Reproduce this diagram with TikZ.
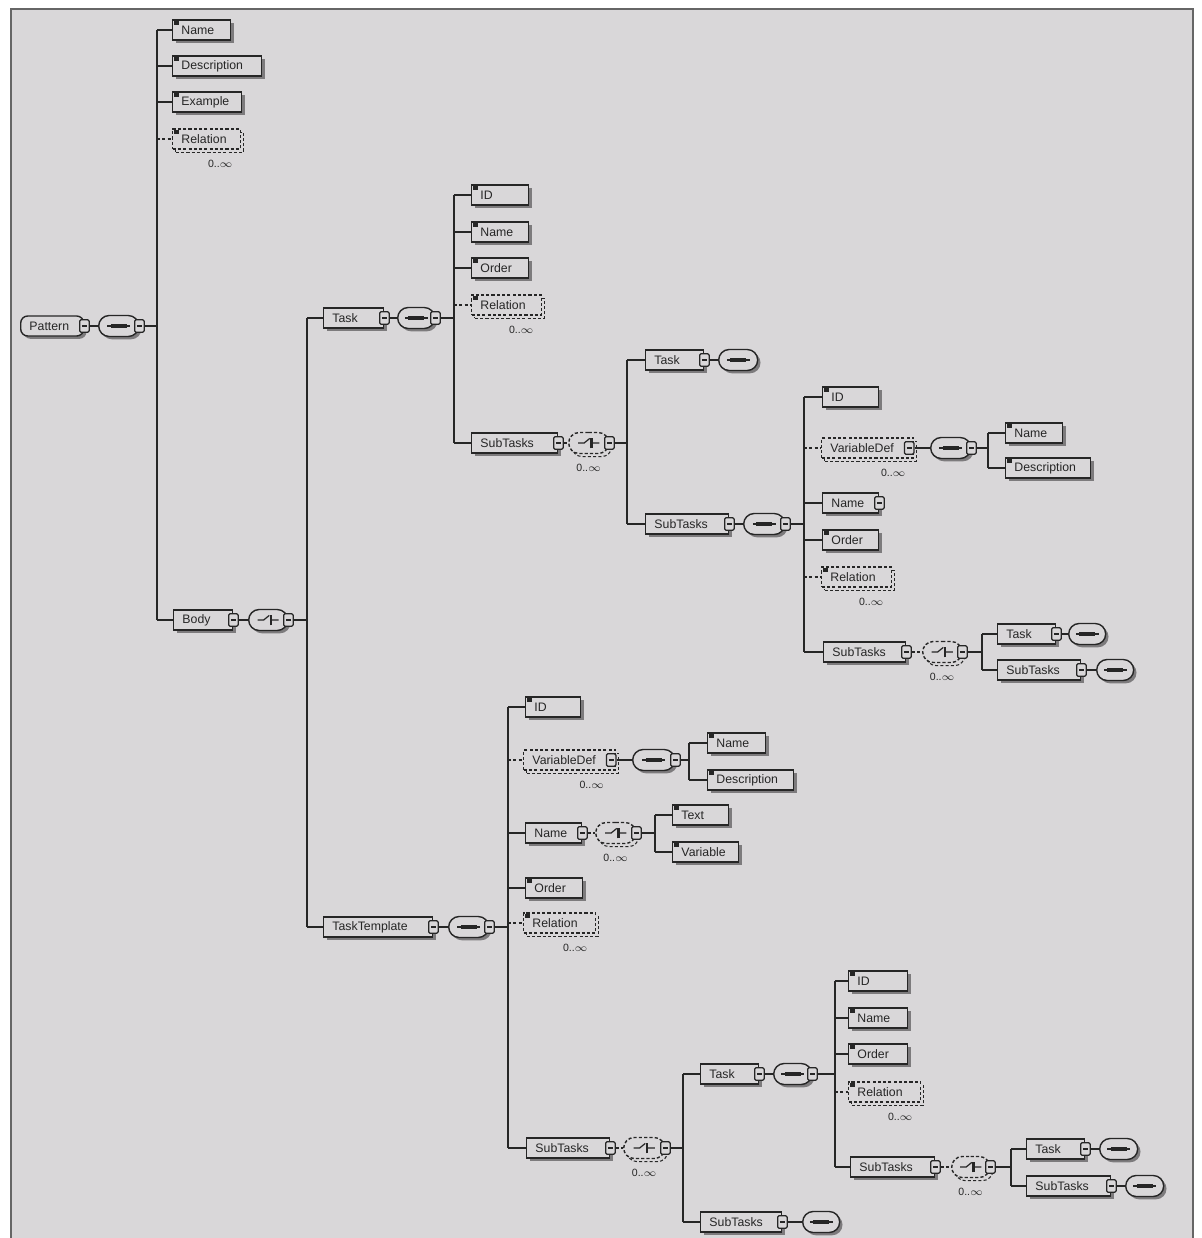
\documentclass[tikz,border=0pt]{standalone}
\usepackage{fontspec}
\setmainfont{Liberation Sans}
\usetikzlibrary{shapes.misc,shadows}

\definecolor{paper}{RGB}{217,215,217}
\definecolor{ink}{RGB}{38,38,38}
\definecolor{shadowgray}{RGB}{125,123,125}

\tikzset{
	wire/.style={draw=ink, line width=0.8pt},
	dotdash/.style={dash pattern=on 1.8pt off 1.2pt},
	hardshadow/.style={general shadow={fill=shadowgray, shadow xshift=1.6pt, shadow yshift=-1.6pt}},
	dashshadow/.style={general shadow={draw=ink, fill=paper, dotdash, line width=0.6pt, shadow xshift=1.8pt, shadow yshift=-1.8pt}},
	box/.style={rectangle, draw=ink, fill=paper, line width=0.8pt, anchor=west, text=ink,
		minimum height=0.4cm, inner xsep=5pt, inner ysep=0pt,
		text width={(#1)*0.02cm-10pt}, align=left, font=\fontsize{7}{8}\selectfont},
	elem/.style={box=#1, hardshadow},
	optelem/.style={box=#1, dotdash, dashshadow},
	rootelem/.style={box=#1, rounded corners=4pt, hardshadow},
	leaf/.style={path picture={\fill[ink] ([shift={(0.8pt,-0.8pt)}]path picture bounding box.north west) rectangle ++(3pt,-2.2pt);}},
	btn/.style={rectangle, draw=ink, fill=paper, line width=0.7pt, solid, minimum width=0.19cm, minimum height=0.25cm,
		inner sep=0pt, rounded corners=0.8pt,
		path picture={\draw[ink, line width=0.6pt] ([xshift=-1.4pt]path picture bounding box.center) -- ([xshift=1.4pt]path picture bounding box.center);}},
	comp/.style={rounded rectangle, draw=ink, fill=paper, line width=0.8pt, anchor=west,
		minimum width={(#1)*0.02cm}, minimum height=0.42cm, inner sep=0pt},
	comp/.default=38,
	seqsym/.style={path picture={
		\draw[ink, solid, line width=0.6pt, shift={(path picture bounding box.center)}] (-6.5pt,0pt) -- (6.5pt,0pt);
		\draw[ink, solid, line width=2.2pt, shift={(path picture bounding box.center)}] (-4.5pt,0pt) -- (4.5pt,0pt);}},
	chsym/.style={path picture={
		\draw[ink, solid, line width=0.7pt, shift={(path picture bounding box.center)}] (-6pt,0pt) -- (-2.6pt,0pt) -- (0.6pt,2.6pt) (1.6pt,0pt) -- (6pt,0pt);
		\draw[ink, solid, line width=1.4pt, shift={(path picture bounding box.center)}] (1.6pt,-3pt) -- (1.6pt,3pt);}},
	seq/.style={comp=#1, hardshadow, seqsym}, seq/.default=38,
	choice/.style={comp=#1, hardshadow, chsym}, choice/.default=38,
	optchoice/.style={comp=#1, dotdash, dashshadow, chsym}, optchoice/.default=38,
	occ/.style={text=ink, inner sep=0.5pt, font=\fontsize{6}{7}\selectfont},
}

\begin{document}
\begin{tikzpicture}[x=0.02cm, y=-0.02cm]
	\useasboundingbox (0,0) rectangle (1201,1238);
	\clip (0,0) rectangle (1201,1238); % Clips the page...
	\fill[white] (0,0) rectangle (1201,1238);
	\fill[paper] (11,9) rectangle (1193,1260);
	\draw[draw=black!60, line width=1.6pt] (11,9) rectangle (1193,1260);

	% root element
	\node[rootelem=63] (pat) at (20,326) {Pattern};
	\node[btn] (pat-b) at (pat.east) {};
	\node[seq=40] (patSeq) at (98,326) {};
	\node[btn] (patSeq-b) at (patSeq.east) {};
	\coordinate (tP) at (157,326);

	\node[elem=58, leaf] (pName) at (172,30) {Name};
	\node[elem=89, leaf] (pDesc) at (172,66) {Description};
	\node[elem=69, leaf] (pEx) at (172,102) {Example};
	\node[optelem=68, leaf] (pRel) at (172,139) {Relation};
	\node[occ] (pRel-o) at ([xshift=-12pt,yshift=-8pt]pRel.south east) {0..\(\infty\)};
	\node[elem=59] (body) at (173,620) {Body};
	\node[btn] (body-b) at (body.east) {};
	\node[choice=39] (bodyCh) at (248,620) {};
	\node[btn] (bodyCh-b) at (bodyCh.east) {};
	\coordinate (tB) at (307,620);

	% Task
	\node[elem=60] (task) at (323,318) {Task};
	\node[btn] (task-b) at (task.east) {};
	\node[seq=37] (taskSeq) at (397,318) {};
	\node[btn] (taskSeq-b) at (taskSeq.east) {};
	\coordinate (tT) at (454,318);

	\node[elem=57, leaf] (tId) at (471,195) {ID};
	\node[elem=57, leaf] (tName) at (471,232) {Name};
	\node[elem=57, leaf] (tOrd) at (471,268) {Order};
	\node[optelem=70, leaf] (tRel) at (471,305) {Relation};
	\node[occ] (tRel-o) at ([xshift=-12pt,yshift=-8pt]tRel.south east) {0..\(\infty\)};
	\node[elem=86] (tSub) at (471,443) {SubTasks};
	\node[btn] (tSub-b) at (tSub.east) {};
	\node[optchoice=40] (tSubCh) at (568,443) {};
	\node[btn] (tSubCh-b) at (tSubCh.east) {};
	\node[occ] (tSubCh-o) at ([yshift=-8pt]tSubCh.south) {0..\(\infty\)};
	\coordinate (tS) at (627,443);

	\node[elem=58] (sTask) at (645,360) {Task};
	\node[btn] (sTask-b) at (sTask.east) {};
	\node[seq=39] (sTaskSeq) at (718,360) {};
	\node[elem=83] (sSub) at (645,524) {SubTasks};
	\node[btn] (sSub-b) at (sSub.east) {};
	\node[seq=41] (sSubSeq) at (743,524) {};
	\node[btn] (sSubSeq-b) at (sSubSeq.east) {};
	\coordinate (tS2) at (804,524);

	\node[elem=56, leaf] (sId) at (822,397) {ID};
	\node[optelem=92] (sVar) at (821,448) {VariableDef};
	\node[btn] (sVar-b) at ([xshift=-3pt]sVar.east) {};
	\node[occ] (sVar-o) at ([xshift=-12pt,yshift=-8pt]sVar.south east) {0..\(\infty\)};
	\node[seq=40] (sVarSeq) at (930,448) {};
	\node[btn] (sVarSeq-b) at (sVarSeq.east) {};
	\coordinate (tV) at (988,448);
	\node[elem=57, leaf] (vName) at (1005,433) {Name};
	\node[elem=85, leaf] (vDesc) at (1005,468) {Description};
	\node[elem=56] (sName) at (822,503) {Name};
	\node[btn] (sName-b) at (sName.east) {};
	\node[elem=56, leaf] (sOrd) at (822,540) {Order};
	\node[optelem=70, leaf] (sRel) at (821,577) {Relation};
	\node[occ] (sRel-o) at ([xshift=-12pt,yshift=-8pt]sRel.south east) {0..\(\infty\)};
	\node[elem=82] (sSub2) at (823,652) {SubTasks};
	\node[btn] (sSub2-b) at (sSub2.east) {};
	\node[optchoice=39] (sSub2Ch) at (922,652) {};
	\node[btn] (sSub2Ch-b) at (sSub2Ch.east) {};
	\node[occ] (sSub2Ch-o) at ([yshift=-8pt]sSub2Ch.south) {0..\(\infty\)};
	\coordinate (tS3) at (982,652);

	\node[elem=58] (ssTask) at (997,634) {Task};
	\node[btn] (ssTask-b) at (ssTask.east) {};
	\node[seq=37] (ssTaskSeq) at (1068,634) {};
	\node[elem=83] (ssSub) at (997,670) {SubTasks};
	\node[btn] (ssSub-b) at (ssSub.east) {};
	\node[seq=37] (ssSubSeq) at (1096,670) {};

	% TaskTemplate
	\node[elem=109] (tt) at (323,927) {TaskTemplate};
	\node[btn] (tt-b) at (tt.east) {};
	\node[seq=40] (ttSeq) at (448,927) {};
	\node[btn] (ttSeq-b) at (ttSeq.east) {};
	\coordinate (tTT) at (508,927);

	\node[elem=55, leaf] (ttId) at (525,707) {ID};
	\node[optelem=92] (ttVar) at (523,760) {VariableDef};
	\node[btn] (ttVar-b) at ([xshift=-3pt]ttVar.east) {};
	\node[occ] (ttVar-o) at ([xshift=-14pt,yshift=-8pt]ttVar.south east) {0..\(\infty\)};
	\node[seq=42] (ttVarSeq) at (632,760) {};
	\node[btn] (ttVarSeq-b) at (ttVarSeq.east) {};
	\coordinate (tV2) at (689,760);
	\node[elem=58, leaf] (v2Name) at (707,743) {Name};
	\node[elem=86, leaf] (v2Desc) at (707,780) {Description};
	\node[elem=56] (ttName) at (525,833) {Name};
	\node[btn] (ttName-b) at (ttName.east) {};
	\node[optchoice=40] (ttNameCh) at (595,833) {};
	\node[btn] (ttNameCh-b) at (ttNameCh.east) {};
	\node[occ] (ttNameCh-o) at ([yshift=-8pt]ttNameCh.south) {0..\(\infty\)};
	\coordinate (tN) at (655,833);
	\node[elem=56, leaf] (nText) at (672,815) {Text};
	\node[elem=66, leaf] (nVar) at (672,852) {Variable};
	\node[elem=57, leaf] (ttOrd) at (525,888) {Order};
	\node[optelem=72, leaf] (ttRel) at (523,923) {Relation};
	\node[occ] (ttRel-o) at ([xshift=-12pt,yshift=-8pt]ttRel.south east) {0..\(\infty\)};
	\node[elem=83] (ttSub) at (526,1148) {SubTasks};
	\node[btn] (ttSub-b) at (ttSub.east) {};
	\node[optchoice=41] (ttSubCh) at (623,1148) {};
	\node[btn] (ttSubCh-b) at (ttSubCh.east) {};
	\node[occ] (ttSubCh-o) at ([yshift=-8pt]ttSubCh.south) {0..\(\infty\)};
	\coordinate (tS4) at (683,1148);

	\node[elem=58] (uTask) at (700,1074) {Task};
	\node[btn] (uTask-b) at (uTask.east) {};
	\node[seq=38] (uTaskSeq) at (773,1074) {};
	\node[btn] (uTaskSeq-b) at (uTaskSeq.east) {};
	\coordinate (tU) at (835,1074);
	\node[elem=59, leaf] (uId) at (848,981) {ID};
	\node[elem=59, leaf] (uName) at (848,1018) {Name};
	\node[elem=59, leaf] (uOrd) at (848,1054) {Order};
	\node[optelem=72, leaf] (uRel) at (848,1092) {Relation};
	\node[occ] (uRel-o) at ([xshift=-12pt,yshift=-8pt]uRel.south east) {0..\(\infty\)};
	\node[elem=84] (uSub) at (850,1167) {SubTasks};
	\node[btn] (uSub-b) at (uSub.east) {};
	\node[optchoice=38] (uSubCh) at (951,1167) {};
	\node[btn] (uSubCh-b) at (uSubCh.east) {};
	\node[occ] (uSubCh-o) at ([yshift=-8pt]uSubCh.south) {0..\(\infty\)};
	\coordinate (tU2) at (1011,1167);
	\node[elem=58] (uuTask) at (1026,1149) {Task};
	\node[btn] (uuTask-b) at (uuTask.east) {};
	\node[seq=38] (uuTaskSeq) at (1099,1149) {};
	\node[elem=84] (uuSub) at (1026,1186) {SubTasks};
	\node[btn] (uuSub-b) at (uuSub.east) {};
	\node[seq=38] (uuSubSeq) at (1125,1186) {};
	\node[elem=81] (uSub8) at (700,1222) {SubTasks};
	\node[btn] (uSub8-b) at (uSub8.east) {};
	\node[seq=37] (uSub8Seq) at (802,1222) {};

	% connectors: element -> compositor -> trunk
	\foreach \a/\b in {pat-b/patSeq, body-b/bodyCh, task-b/taskSeq, sTask-b/sTaskSeq, sSub-b/sSubSeq,
		sVar-b/sVarSeq, ssTask-b/ssTaskSeq, ssSub-b/ssSubSeq, tt-b/ttSeq, ttVar-b/ttVarSeq,
		uTask-b/uTaskSeq, uuTask-b/uuTaskSeq, uuSub-b/uuSubSeq, uSub8-b/uSub8Seq}
		\draw[wire] (\a) -- (\b);
	\foreach \a/\b in {tSub-b/tSubCh, sSub2-b/sSub2Ch, ttName-b/ttNameCh, ttSub-b/ttSubCh, uSub-b/uSubCh}
		\draw[wire, dotdash] (\a) -- (\b);
	\foreach \a/\b in {patSeq-b/tP, bodyCh-b/tB, taskSeq-b/tT, tSubCh-b/tS, sSubSeq-b/tS2, sVarSeq-b/tV,
		sSub2Ch-b/tS3, ttSeq-b/tTT, ttVarSeq-b/tV2, ttNameCh-b/tN, ttSubCh-b/tS4, uTaskSeq-b/tU, uSubCh-b/tU2}
		\draw[wire] (\a) -- (\b);

	% trunks
	\draw[wire] (tP |- pName.west) -- (tP |- body.west);
	\draw[wire] (tB |- task.west) -- (tB |- tt.west);
	\draw[wire] (tT |- tId.west) -- (tT |- tSub.west);
	\draw[wire] (tS |- sTask.west) -- (tS |- sSub.west);
	\draw[wire] (tS2 |- sId.west) -- (tS2 |- sSub2.west);
	\draw[wire] (tV |- vName.west) -- (tV |- vDesc.west);
	\draw[wire] (tS3 |- ssTask.west) -- (tS3 |- ssSub.west);
	\draw[wire] (tTT |- ttId.west) -- (tTT |- ttSub.west);
	\draw[wire] (tV2 |- v2Name.west) -- (tV2 |- v2Desc.west);
	\draw[wire] (tN |- nText.west) -- (tN |- nVar.west);
	\draw[wire] (tS4 |- uTask.west) -- (tS4 |- uSub8.west);
	\draw[wire] (tU |- uId.west) -- (tU |- uSub.west);
	\draw[wire] (tU2 |- uuTask.west) -- (tU2 |- uuSub.west);

	% stubs to the children
	\foreach \t/\c in {tP/pName, tP/pDesc, tP/pEx, tP/body, tB/task, tB/tt, tT/tId, tT/tName, tT/tOrd, tT/tSub,
		tS/sTask, tS/sSub, tS2/sId, tS2/sName, tS2/sOrd, tS2/sSub2, tV/vName, tV/vDesc, tS3/ssTask, tS3/ssSub,
		tTT/ttId, tTT/ttName, tTT/ttOrd, tTT/ttSub, tV2/v2Name, tV2/v2Desc, tN/nText, tN/nVar,
		tS4/uTask, tS4/uSub8, tU/uId, tU/uName, tU/uOrd, tU/uSub, tU2/uuTask, tU2/uuSub}
		\draw[wire] (\t |- \c.west) -- (\c.west);
	\foreach \t/\c in {tP/pRel, tT/tRel, tS2/sVar, tS2/sRel, tTT/ttVar, tTT/ttRel, tU/uRel}
		\draw[wire, dotdash] (\t |- \c.west) -- (\c.west);
\end{tikzpicture}
\end{document}
